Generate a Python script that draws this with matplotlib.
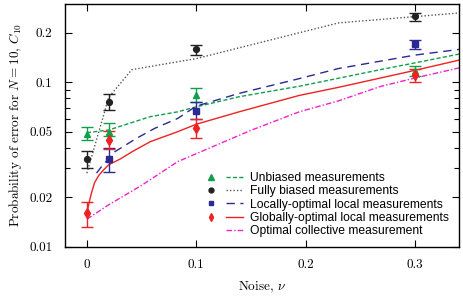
import matplotlib
matplotlib.use('Agg')
import matplotlib.pyplot as plt
from matplotlib.lines import Line2D
from matplotlib.legend_handler import HandlerTuple
from matplotlib.ticker import FixedLocator, NullFormatter

plt.rcParams['font.family'] = 'cmr10'
plt.rcParams['mathtext.fontset'] = 'cm'
plt.rcParams['axes.formatter.use_mathtext'] = True

# measured points (noise, value, lower, upper)
noise_pts = [0, 0.02, 0.1, 0.3]

unbiased_y = [0.0482, 0.0501, 0.0834, 0.117]
unbiased_lo = [0.0443, 0.0470, 0.0753, 0.109]
unbiased_hi = [0.0531, 0.0562, 0.0916, 0.126]

biased_y = [0.0342, 0.0760, 0.158, 0.251]
biased_lo = [0.0302, 0.0677, 0.146, 0.235]
biased_hi = [0.0382, 0.0842, 0.169, 0.263]

locopt_x = [0.02, 0.1, 0.3]
locopt_y = [0.0342, 0.0670, 0.171]
locopt_lo = [0.0284, 0.0594, 0.158]
locopt_hi = [0.0400, 0.0753, 0.181]

globopt_y = [0.0160, 0.0445, 0.0524, 0.110]
globopt_lo = [0.0132, 0.0395, 0.0455, 0.1004]
globopt_hi = [0.0188, 0.0506, 0.0594, 0.120]

# theory curves
unb_cx = [0, 0.02, 0.0575, 0.083, 0.1, 0.139, 0.194, 0.23, 0.268, 0.3, 0.34]
unb_cy = [0.0493, 0.0512, 0.0616, 0.0660, 0.0708, 0.0815, 0.0944, 0.1056, 0.119, 0.131, 0.148]

bia_cx = [0, 0.02, 0.041, 0.1, 0.23, 0.3, 0.34]
bia_cy = [0.028, 0.081, 0.119, 0.139, 0.229, 0.250, 0.263]

loc_cx = [0.0088, 0.0134, 0.0256, 0.0454, 0.062, 0.083, 0.1, 0.139, 0.194, 0.23, 0.3, 0.34]
loc_cy = [0.028, 0.0307, 0.0378, 0.0456, 0.0524, 0.0602, 0.0715, 0.0854, 0.105, 0.121, 0.146, 0.158]

glo_cx = [0, 0.002, 0.004, 0.007, 0.011, 0.015, 0.02, 0.03, 0.042, 0.058, 0.083, 0.1, 0.139, 0.194, 0.23, 0.3, 0.34]
glo_cy = [0.016, 0.0185, 0.021, 0.0245, 0.0272, 0.0292, 0.0315, 0.034, 0.038, 0.0435, 0.0500, 0.0555, 0.0660, 0.0830, 0.093, 0.118, 0.136]

col_cx = [0, 0.02, 0.05, 0.083, 0.15, 0.194, 0.23, 0.268, 0.3, 0.34]
col_cy = [0.0147, 0.018, 0.0236, 0.0329, 0.051, 0.066, 0.077, 0.094, 0.106, 0.122]

green = '#10a04a'
black = '#222222'
blue = '#2a2a92'
red = '#ee2222'
magenta = '#ee22c8'

fig = plt.figure(figsize=(4.63, 2.98), dpi=100)
ax = fig.add_axes([0.1404, 0.172, 0.851, 0.816])

def errs(y, lo, hi):
    return [[a - b for a, b in zip(y, lo)], [b - a for a, b in zip(y, hi)]]

ax.plot(unb_cx, unb_cy, color=green, ls=(0, (3, 1.6)), lw=1)
ax.plot(bia_cx, bia_cy, color='#555555', ls=(0, (1, 1.5)), lw=1)
ax.plot(loc_cx, loc_cy, color=blue, ls=(0, (6, 4)), lw=1)
ax.plot(glo_cx, glo_cy, color=red, lw=1)
ax.plot(col_cx, col_cy, color=magenta, ls=(0, (4, 1.5, 1, 1.5)), lw=1)

ekw = dict(ls='none', capsize=4, elinewidth=1, capthick=1)
ax.errorbar(noise_pts, unbiased_y, yerr=errs(unbiased_y, unbiased_lo, unbiased_hi),
            marker='^', ms=5, color=green, **ekw)
ax.errorbar(noise_pts, biased_y, yerr=errs(biased_y, biased_lo, biased_hi),
            marker='o', ms=4.2, color=black, **ekw)
ax.errorbar(locopt_x, locopt_y, yerr=errs(locopt_y, locopt_lo, locopt_hi),
            marker='s', ms=4, color=blue, **ekw)
ax.errorbar(noise_pts, globopt_y, yerr=errs(globopt_y, globopt_lo, globopt_hi),
            marker='d', ms=5, color=red, **ekw)

ax.set_yscale('log')
ax.set_xlim(-0.02, 0.34)
ax.set_ylim(0.01, 0.3)
ax.set_xticks([0, 0.1, 0.2, 0.3])
ax.set_xticklabels(['0', '0.1', '0.2', '0.3'])
ax.yaxis.set_major_locator(FixedLocator([0.01, 0.02, 0.05, 0.1, 0.2]))
ax.yaxis.set_minor_locator(FixedLocator([0.03, 0.04, 0.06, 0.07, 0.08, 0.09]))
ax.yaxis.set_minor_formatter(NullFormatter())
ax.set_yticklabels(['0.01', '0.02', '0.05', '0.1', '0.2'])
ax.tick_params(which='both', direction='in', top=True, right=True, labelsize=9.5, width=0.8)
ax.tick_params(which='major', length=5, pad=9)
ax.tick_params(which='minor', length=3.5)
for s in ax.spines.values():
    s.set_linewidth(1)

ax.set_xlabel(r'Noise, $\nu$', fontsize=9.5, labelpad=6)
ax.set_ylabel(r'Probability of error for $N = 10$, $C_{10}$', fontsize=9.5, labelpad=4)

handles = [
    (Line2D([], [], ls='none', marker='^', ms=4, color=green),
     Line2D([], [], color=green, ls=(0, (3, 1.6)), lw=1)),
    (Line2D([], [], ls='none', marker='o', ms=3.5, color=black),
     Line2D([], [], color='#555555', ls=(0, (1, 1.5)), lw=1)),
    (Line2D([], [], ls='none', marker='s', ms=3, color=blue),
     Line2D([], [], color=blue, ls=(0, (6, 4)), lw=1)),
    (Line2D([], [], ls='none', marker='d', ms=4, color=red),
     Line2D([], [], color=red, lw=1)),
    (Line2D([], [], ls='none', marker='none', color='none'),
     Line2D([], [], color=magenta, ls=(0, (4, 1.5, 1, 1.5)), lw=1)),
]
labels = ['Unbiased measurements', 'Fully biased measurements',
          'Locally-optimal local measurements', 'Globally-optimal local measurements',
          'Optimal collective measurement']
ax.legend(handles, labels, handler_map={tuple: HandlerTuple(ndivide=None, pad=0.5)},
          loc='lower right', bbox_to_anchor=(1.0, 0.0), frameon=False,
          prop={'family': 'Liberation Sans', 'size': 8.7}, handlelength=3.4,
          handletextpad=0.6, labelspacing=0.1, borderaxespad=0.4)

fig.savefig('out.png', dpi=100)
